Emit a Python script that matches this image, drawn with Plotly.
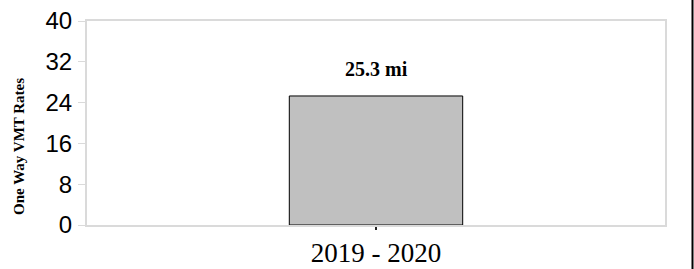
import plotly.graph_objects as go

categories = ["2019 - 2020"]
values = [25.3]
value_labels = ["25.3 mi"]
y_ticks = [0, 8, 16, 24, 32, 40]
y_title = "One Way VMT Rates"

W, H = 694, 269
L, T = 87, 21
R, B = W - 665, H - 225
PW, PH = W - L - R, H - T - B

fig = go.Figure()
fig.add_trace(go.Bar(
    x=categories, y=values, width=0.3,
    marker=dict(color="#c0c0c0", line=dict(color="#000000", width=1)),
    hoverinfo="skip",
))
for c, v, t in zip(categories, values, value_labels):
    fig.add_annotation(x=c, y=v, text="<b>%s</b>" % t, showarrow=False,
                       yanchor="bottom", yshift=14,
                       font=dict(family="Liberation Serif", size=20, color="#000"))

fig.add_annotation(xref="paper", yref="paper", x=(19 - L) / PW, y=(225 - 147) / PH,
                   text="<b>%s</b>" % y_title, textangle=-90, showarrow=False,
                   xanchor="center", yanchor="middle",
                   font=dict(family="Liberation Serif", size=15, color="#000"))

xp = (692.5 - L) / PW
fig.add_shape(type="line", xref="paper", yref="paper",
              x0=xp, x1=xp, y0=-(B + 5) / PH, y1=1 + (T + 5) / PH,
              line=dict(color="#000", width=2))

fig.update_layout(
    width=W, height=H,
    margin=dict(l=L, r=R, t=T, b=B, autoexpand=False),
    paper_bgcolor="white", plot_bgcolor="white",
    showlegend=False,
    xaxis=dict(
        automargin=False,
        showgrid=False, showline=True, linecolor="#dadada", linewidth=2, mirror=True,
        ticks="outside", ticklen=3, tickcolor="#222", tickwidth=2,
        tickfont=dict(family="Liberation Serif", size=27, color="#000"),
        ticklabeloverflow="allow",
    ),
    yaxis=dict(
        automargin=False,
        range=[0, 40], tickvals=y_ticks, showgrid=False,
        showline=True, linecolor="#dadada", linewidth=2, mirror=True,
        ticks="outside", ticklen=7, tickcolor="#dadada", tickwidth=1,
        tickfont=dict(family="Liberation Sans", size=24, color="#000"),
        ticklabelstandoff=1, ticklabeloverflow="allow",
    ),
)

fig.write_html("out.html", config={"displayModeBar": False},
               post_script="document.body.style.margin='0';document.body.style.overflow='hidden';")
